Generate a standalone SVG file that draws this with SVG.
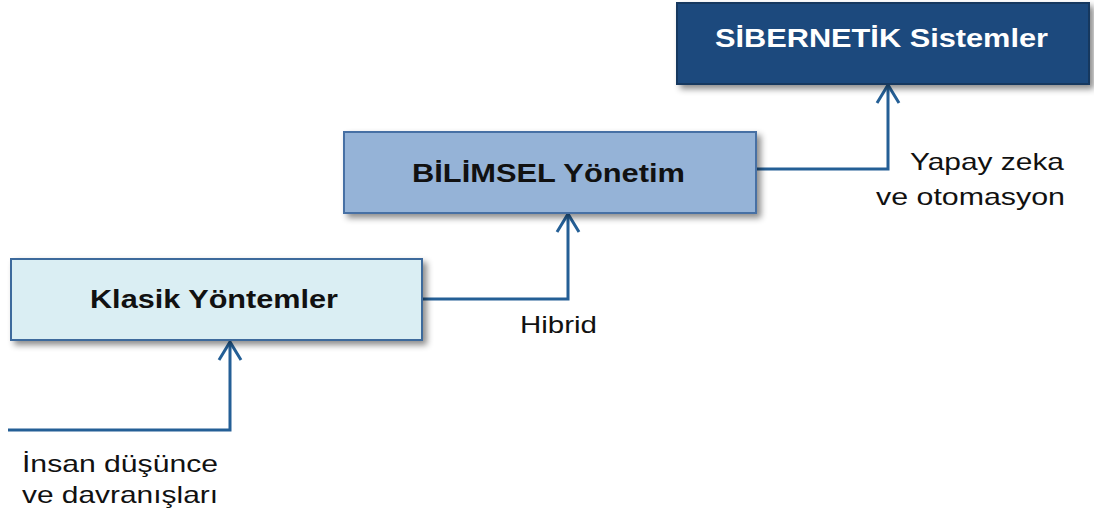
<svg xmlns="http://www.w3.org/2000/svg" width="1094" height="516" viewBox="0 0 1094 516">
  <style>
    .lbl { font-family: "Liberation Sans", Arial, sans-serif; font-size: 24px; fill: #111; }
    .ttl { font-family: "Liberation Sans", Arial, sans-serif; font-size: 25px; font-weight: bold; }
    .con { fill: none; stroke: #245F96; stroke-width: 3; }
  </style>
  <defs>
    <filter id="sh" x="-10%" y="-20%" width="125%" height="150%">
      <feDropShadow dx="4" dy="4" stdDeviation="3" flood-color="#000" flood-opacity="0.45"/>
    </filter>
    <marker id="chev" markerUnits="userSpaceOnUse" markerWidth="30" markerHeight="30" viewBox="-22 -15 26 30" refX="0" refY="0" orient="auto" overflow="visible">
      <path d="M-18,-11 L0,0 L-18,11" fill="none" stroke="#245F96" stroke-width="3"/>
    </marker>
  </defs>
  <rect width="1094" height="516" fill="#fff"/>

  <g id="connectors">
    <path class="con" d="M8,430 H230 V342" marker-end="url(#chev)"/>
    <path class="con" d="M422,299 H568 V214" marker-end="url(#chev)"/>
    <path class="con" d="M756,169 H888 V85" marker-end="url(#chev)"/>
  </g>

  <g id="node-klasik">
    <rect x="11" y="259" width="411" height="81" fill="#DAEEF3" stroke="#3D6A9C" stroke-width="2" filter="url(#sh)"/>
    <text class="ttl" x="90" y="308" textLength="248" lengthAdjust="spacingAndGlyphs" fill="#111">Klasik Yöntemler</text>
  </g>

  <g id="node-bilimsel">
    <rect x="344" y="132" width="412" height="81" fill="#95B3D7" stroke="#4670A4" stroke-width="2" filter="url(#sh)"/>
    <text class="ttl" x="412" y="182" textLength="273" lengthAdjust="spacingAndGlyphs" fill="#111">BİLİMSEL Yönetim</text>
  </g>

  <g id="node-sibernetik">
    <rect x="677" y="3" width="412" height="81" fill="#1F497D" stroke="#17375E" stroke-width="2" filter="url(#sh)"/>
    <text class="ttl" x="715" y="47" textLength="333" lengthAdjust="spacingAndGlyphs" fill="#fff">SİBERNETİK Sistemler</text>
  </g>

  <g id="labels">
    <text class="lbl" x="520" y="333" textLength="77" lengthAdjust="spacingAndGlyphs">Hibrid</text>
    <text class="lbl" x="910" y="170" textLength="154" lengthAdjust="spacingAndGlyphs">Yapay zeka</text>
    <text class="lbl" x="876" y="205" textLength="189" lengthAdjust="spacingAndGlyphs">ve otomasyon</text>
    <text class="lbl" x="22" y="472" textLength="196" lengthAdjust="spacingAndGlyphs">İnsan düşünce</text>
    <text class="lbl" x="22" y="503" textLength="196" lengthAdjust="spacingAndGlyphs">ve davranışları</text>
  </g>
</svg>
